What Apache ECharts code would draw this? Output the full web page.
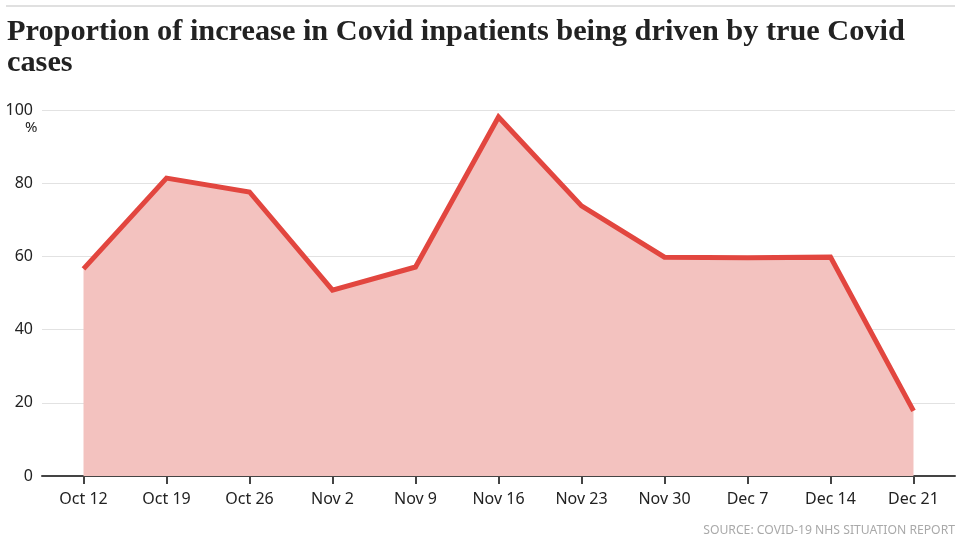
<!DOCTYPE html>
<html><head><meta charset="utf-8">
<script src="https://cdn.jsdelivr.net/npm/echarts@6/dist/echarts.min.js"></script>
<style>html,body{margin:0;padding:0;background:#fff}#c{width:970px;height:556px}</style>
</head><body><div id="c"></div>
<script>
const categories = ['Oct 12','Oct 19','Oct 26','Nov 2','Nov 9','Nov 16','Nov 23','Nov 30','Dec 7','Dec 14','Dec 21'];
const values = [56.6, 81.4, 77.6, 50.8, 57.1, 98.1, 73.8, 59.8, 59.6, 59.8, 17.8];
const yTicks = [0, 20, 40, 60, 80, 100];
const titleText = 'Proportion of increase in Covid inpatients being driven by true Covid\ncases';
const sourceText = 'SOURCE: COVID-19 NHS SITUATION REPORT';

const chart = echarts.init(document.getElementById('c'), null, {renderer:'canvas'});
const sans = '"Noto Sans", sans-serif';
chart.setOption({
  animation: false,
  title: {
    text: titleText, left: 7, top: 17, padding: 0,
    textStyle: {fontFamily: '"Liberation Serif", serif', fontWeight: 'bold', fontSize: 30.3, color: '#222', lineHeight: 31}
  },
  graphic: [
    {type: 'rect', shape: {x: 6, y: 5, width: 949, height: 2}, style: {fill: '#e0e0e0'}},
    {type: 'text', right: 15, top: 525, style: {text: sourceText, font: '12.2px "Noto Sans", sans-serif', fill: '#a9a9a9'}},
    {type: 'text', left: 25, top: 120, style: {text: '%', font: '15px "Noto Sans", sans-serif', fill: '#222'}}
  ],
  grid: {left: 42, right: 15, top: 110, bottom: 80, containLabel: false},
  xAxis: {
    type: 'category', data: categories, boundaryGap: true,
    axisLine: {show: true, lineStyle: {color: '#444', width: 2}},
    axisTick: {show: true, alignWithLabel: true, length: 8, lineStyle: {color: '#444', width: 2}},
    axisLabel: {fontFamily: sans, fontSize: 16, color: '#222', margin: 15, interval: 0}
  },
  yAxis: {
    type: 'value', min: 0, max: 100, interval: 20,
    axisLine: {show: false}, axisTick: {show: false},
    axisLabel: {fontFamily: sans, fontSize: 16, color: '#222', margin: 9,
      formatter: v => yTicks.includes(v) ? String(v) : ''},
    splitLine: {lineStyle: {color: '#e2e2e2', width: 1}}
  },
  series: [{
    type: 'line', data: values, symbol: 'none',
    lineStyle: {color: '#e2463f', width: 5, join: 'miter'},
    areaStyle: {color: '#f3c2bf', opacity: 1}
  }]
});
</script></body></html>
